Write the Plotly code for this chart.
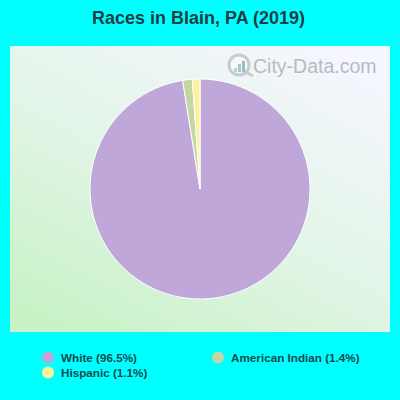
import base64
import plotly.graph_objects as go

categories = ["White", "American Indian", "Hispanic"]
values = [96.5, 1.4, 1.1]
colors = ["#bfa8d9", "#c3d6a4", "#fdf29b"]
legend_x = [48, 218, 48]
legend_y = [357.5, 357.5, 372.5]

W = H = 400.0
svg = ('<svg xmlns="http://www.w3.org/2000/svg" width="380" height="286" preserveAspectRatio="none">'
       '<defs><linearGradient id="g" x1="0.15" y1="1" x2="0.85" y2="0">'
       '<stop offset="0" stop-color="#c8f2c6"/>'
       '<stop offset="0.5" stop-color="#e3f5e8"/>'
       '<stop offset="1" stop-color="#f6f6ff"/>'
       '</linearGradient></defs>'
       '<rect width="380" height="286" fill="url(#g)"/></svg>')
bg_uri = "data:image/svg+xml;base64," + base64.b64encode(svg.encode()).decode()

fig = go.Figure(go.Pie(
    labels=categories, values=values, sort=False, direction="clockwise", rotation=0,
    marker=dict(colors=colors, line=dict(color="white", width=1)),
    textinfo="none", hoverinfo="label+percent",
    domain=dict(x=[90 / W, 310 / W], y=[1 - 299 / H, 1 - 79 / H]),
))

shapes = []
annotations = []
for cat, val, col, lx, ly in zip(categories, values, colors, legend_x, legend_y):
    shapes.append(dict(type="circle", xref="paper", yref="paper",
                       x0=(lx - 6) / W, x1=(lx + 6) / W, y0=1 - (ly + 6) / H, y1=1 - (ly - 6) / H,
                       fillcolor=col, line=dict(width=0), layer="above"))
    annotations.append(dict(text=f"<b>{cat} ({val}%)</b>", xref="paper", yref="paper",
                            x=(lx + 11) / W, y=1 - ly / H, xanchor="left", yanchor="middle",
                            showarrow=False, font=dict(family="Liberation Sans", size=11.7, color="#134a50")))

# title
annotations.append(dict(text="<b>Races in Blain, PA (2019)</b>", xref="paper", yref="paper",
                        x=0.495, y=1 - 18 / H, xanchor="center", yanchor="middle", showarrow=False,
                        font=dict(family="Liberation Sans", size=18, color="#1f3f44")))
# watermark
annotations.append(dict(text="City-Data.com", xref="paper", yref="paper",
                        x=251 / W, y=1 - 66 / H, xanchor="left", yanchor="middle", showarrow=False,
                        font=dict(family="Liberation Sans", size=19.5, color="#b4bcc2")))
# watermark magnifier
shapes.append(dict(type="circle", xref="paper", yref="paper",
                   x0=229 / W, x1=249 / W, y0=1 - 75 / H, y1=1 - 55 / H,
                   fillcolor="rgba(255,255,255,0.4)", line=dict(color="#c4cdd0", width=3), layer="below"))
shapes.append(dict(type="line", xref="paper", yref="paper",
                   x0=246 / W, x1=253 / W, y0=1 - 72 / H, y1=1 - 76 / H,
                   line=dict(color="#c4cdd0", width=3), layer="below"))
for x0, top, col in [(234, 68, "#b4d0d6"), (238, 64, "#a4c6cf"), (242, 61, "#98bcc8")]:
    shapes.append(dict(type="rect", xref="paper", yref="paper",
                       x0=x0 / W, x1=(x0 + 3) / W, y0=1 - 72 / H, y1=1 - top / H,
                       fillcolor=col, line=dict(width=0), layer="below"))

fig.update_layout(
    width=400, height=400, autosize=False,
    margin=dict(l=0, r=0, t=0, b=0),
    paper_bgcolor="#00ffff", plot_bgcolor="#00ffff",
    showlegend=False,
    images=[dict(source=bg_uri, xref="paper", yref="paper", x=10 / W, y=1 - 46 / H,
                 sizex=380 / W, sizey=286 / H, sizing="stretch", xanchor="left", yanchor="top", layer="below")],
    shapes=shapes, annotations=annotations,
)
fig.write_html("out.html", config=dict(displayModeBar=False),
               post_script="document.body.style.margin='0';document.body.style.overflow='hidden';")
